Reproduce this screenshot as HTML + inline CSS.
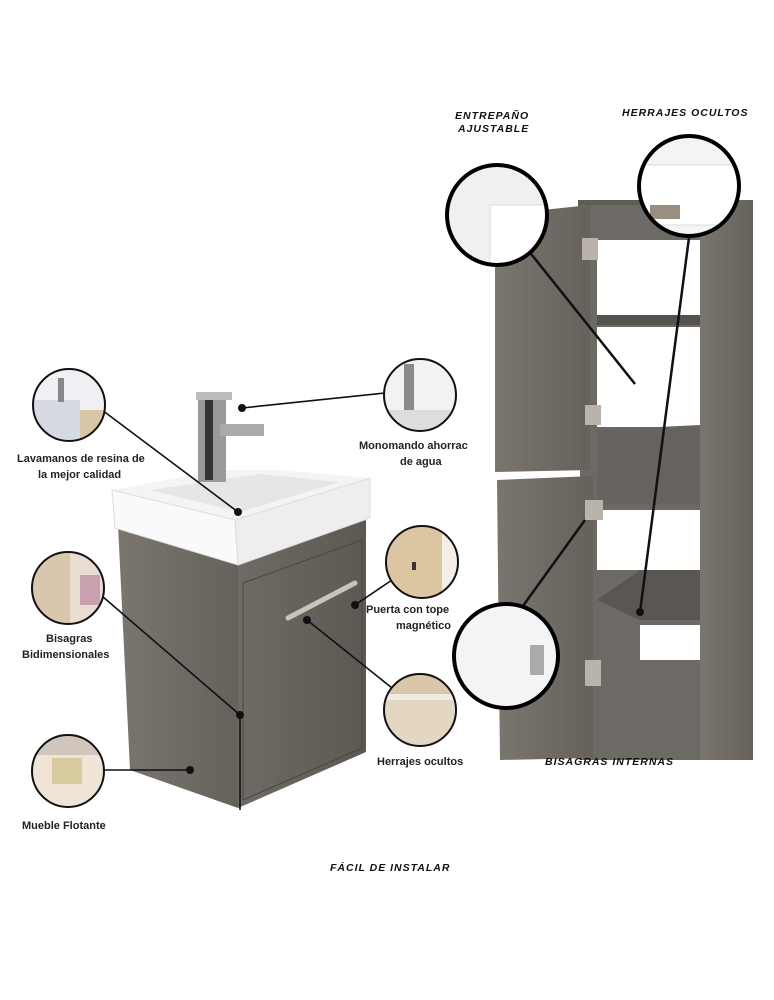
<!DOCTYPE html>
<html><head><meta charset="utf-8"><style>
body{margin:0;background:#fff;}
svg{display:block}
text{font-family:"Liberation Sans",sans-serif;fill:#111}
.b{font-weight:bold;font-style:italic;font-size:10.5px;letter-spacing:1px}
.l{font-size:11px;font-weight:bold;fill:#222}
</style></head><body>
<svg width="774" height="1000" viewBox="0 0 774 1000">
<defs>
<linearGradient id="wood" x1="0" y1="0" x2="1" y2="0"><stop offset="0" stop-color="#6f6a64"/><stop offset="1" stop-color="#5d5852"/></linearGradient>
<linearGradient id="wood2" x1="0" y1="0" x2="1" y2="0"><stop offset="0" stop-color="#7a756f"/><stop offset="1" stop-color="#66615b"/></linearGradient>
<clipPath id="c1"><circle cx="69" cy="405" r="36"/></clipPath>
<clipPath id="c2"><circle cx="68" cy="588" r="36"/></clipPath>
<clipPath id="c3"><circle cx="68" cy="771" r="36"/></clipPath>
<clipPath id="c4"><circle cx="420" cy="395" r="36"/></clipPath>
<clipPath id="c5"><circle cx="422" cy="562" r="36"/></clipPath>
<clipPath id="c6"><circle cx="420" cy="710" r="36"/></clipPath>
<clipPath id="C1"><circle cx="497" cy="215" r="50"/></clipPath>
<clipPath id="C2"><circle cx="689" cy="186" r="50"/></clipPath>
</defs>
<!-- Vanity cabinet -->
<polygon points="118,525 238,565 238,808 130,770" fill="url(#wood2)"/>
<polygon points="238,565 366,512 366,752 238,808" fill="url(#wood)"/>
<polygon points="243,583 362,540 362,748 243,800" fill="none" stroke="#4a4641" stroke-width="1"/>
<line x1="288" y1="618" x2="355" y2="583" stroke="#c9c3b8" stroke-width="5" stroke-linecap="round"/>
<!-- sink -->
<polygon points="112,490 235,520 370,478 280,470 220,470" fill="#f4f4f4"/>
<polygon points="112,490 235,520 238,565 115,528" fill="#fafafa" stroke="#ddd"/>
<polygon points="235,520 370,478 370,518 238,565" fill="#eeeeee" stroke="#ddd"/>
<polygon points="150,490 240,512 340,482 260,474" fill="#e6e6e6"/>
<!-- faucet -->
<rect x="198" y="396" width="28" height="86" fill="#9a9a9a"/>
<rect x="205" y="400" width="8" height="80" fill="#333"/>
<rect x="196" y="392" width="36" height="8" fill="#bbb"/>
<rect x="220" y="424" width="44" height="12" fill="#aaa"/>
<!-- tall cabinet -->
<polygon points="578,200 752,200 752,208 578,208" fill="#5f5b56"/>
<rect x="580" y="205" width="122" height="555" fill="#6d6964"/>
<rect x="597" y="240" width="103" height="75" fill="#fff"/>
<rect x="597" y="327" width="103" height="100" fill="#fff"/>
<rect x="597" y="510" width="103" height="60" fill="#fff"/>
<rect x="640" y="625" width="60" height="35" fill="#fff"/>
<rect x="597" y="315" width="103" height="10" fill="#56524d"/>
<polygon points="597,430 700,425 700,505 597,505" fill="#67635e"/>
<polygon points="597,600 640,570 700,570 700,620 640,620" fill="#5a5651"/>
<rect x="700" y="200" width="53" height="560" fill="url(#wood2)"/>
<polygon points="495,215 590,205 590,470 495,472" fill="url(#wood2)"/>
<polygon points="497,480 593,476 593,758 500,760" fill="url(#wood2)"/>
<rect x="582" y="238" width="16" height="22" fill="#b9b3aa"/>
<rect x="585" y="405" width="16" height="20" fill="#b9b3aa"/>
<rect x="585" y="500" width="18" height="20" fill="#b9b3aa"/>
<rect x="585" y="660" width="16" height="26" fill="#b9b3aa"/>
<!-- connectors -->
<g stroke="#111" stroke-width="1.6" fill="none">
<line x1="98" y1="407" x2="238" y2="512"/>
<line x1="95" y1="590" x2="240" y2="715"/>
<line x1="240" y1="715" x2="240" y2="810"/>
<line x1="104" y1="770" x2="190" y2="770"/>
<line x1="242" y1="408" x2="385" y2="393"/>
<line x1="355" y1="605" x2="392" y2="580"/>
<line x1="307" y1="620" x2="392" y2="688"/>
<line x1="585" y1="520" x2="520" y2="610" stroke-width="2.5"/>
<line x1="520" y1="240" x2="635" y2="384" stroke-width="2.5"/>
<line x1="690" y1="230" x2="640" y2="612" stroke-width="2.5"/>
</g>
<g fill="#111">
<circle cx="238" cy="512" r="4"/><circle cx="242" cy="408" r="4"/><circle cx="240" cy="715" r="4"/>
<circle cx="190" cy="770" r="4"/><circle cx="355" cy="605" r="4"/><circle cx="307" cy="620" r="4"/>
<circle cx="640" cy="612" r="4"/>
</g>
<!-- small circles -->
<circle cx="69" cy="405" r="36" fill="#eef0f3"/>
<circle cx="68" cy="588" r="36" fill="#e8ddd0"/>
<circle cx="68" cy="771" r="36" fill="#efe4d6"/>
<circle cx="420" cy="395" r="36" fill="#f2f2f2"/>
<circle cx="422" cy="562" r="36" fill="#f3efe8"/>
<circle cx="420" cy="710" r="36" fill="#f0ebe4"/>
<g clip-path="url(#c1)"><rect x="30" y="400" width="50" height="45" fill="#d6dbe3"/><rect x="58" y="378" width="6" height="24" fill="#888"/><rect x="80" y="410" width="30" height="35" fill="#d9c6a6"/></g>
<g clip-path="url(#c2)"><rect x="30" y="550" width="40" height="80" fill="#d9c7ad"/><rect x="80" y="575" width="20" height="30" fill="#c9a0b0"/></g>
<g clip-path="url(#c3)"><rect x="30" y="735" width="80" height="20" fill="#d0c6bc"/><rect x="52" y="758" width="30" height="26" fill="#d9cba0"/></g>
<g clip-path="url(#c4)"><rect x="404" y="364" width="10" height="50" fill="#8a8a8a"/><rect x="384" y="410" width="72" height="25" fill="#dddddd"/></g>
<g clip-path="url(#c5)"><rect x="386" y="526" width="56" height="72" fill="#dcc6a2"/><rect x="412" y="562" width="4" height="8" fill="#333"/></g>
<g clip-path="url(#c6)"><rect x="384" y="674" width="72" height="20" fill="#d8c7ab"/><rect x="384" y="700" width="70" height="46" fill="#e4d7c2"/></g>
<g stroke="#111" stroke-width="2" fill="none">
<circle cx="69" cy="405" r="36"/><circle cx="68" cy="588" r="36"/><circle cx="68" cy="771" r="36"/>
<circle cx="420" cy="395" r="36"/><circle cx="422" cy="562" r="36"/><circle cx="420" cy="710" r="36"/>
</g>
<!-- big circles -->
<circle cx="497" cy="215" r="50" fill="#eef0f2"/>
<circle cx="689" cy="186" r="50" fill="#f3f4f5"/>
<circle cx="506" cy="656" r="52" fill="#f3f4f6"/>
<g clip-path="url(#C1)"><rect x="490" y="205" width="60" height="65" fill="#fff" stroke="#ddd"/></g>
<g clip-path="url(#C2)"><rect x="640" y="165" width="100" height="60" fill="#fff" stroke="#ddd"/><rect x="650" y="205" width="30" height="14" fill="#9a8e80"/></g>
<rect x="530" y="645" width="14" height="30" fill="#aaa"/>
<g stroke="#000" stroke-width="4" fill="none">
<circle cx="497" cy="215" r="50"/><circle cx="689" cy="186" r="50"/><circle cx="506" cy="656" r="52"/>
</g>
<!-- labels -->
<text class="b" x="455" y="119">ENTREPAÑO</text>
<text class="b" x="458" y="132">AJUSTABLE</text>
<text class="b" x="622" y="116">HERRAJES OCULTOS</text>
<text class="b" x="545" y="765">BISAGRAS INTERNAS</text>
<text class="b" x="330" y="871">FÁCIL DE INSTALAR</text>
<text class="l" x="17" y="462">Lavamanos de resina de</text>
<text class="l" x="38" y="478">la mejor calidad</text>
<text class="l" x="46" y="642">Bisagras</text>
<text class="l" x="22" y="658">Bidimensionales</text>
<text class="l" x="22" y="829">Mueble Flotante</text>
<text class="l" x="359" y="449">Monomando ahorrac</text>
<text class="l" x="400" y="465">de agua</text>
<text class="l" x="366" y="613">Puerta con tope</text>
<text class="l" x="396" y="629">magnético</text>
<text class="l" x="377" y="765">Herrajes ocultos</text>
</svg>
</body></html>
